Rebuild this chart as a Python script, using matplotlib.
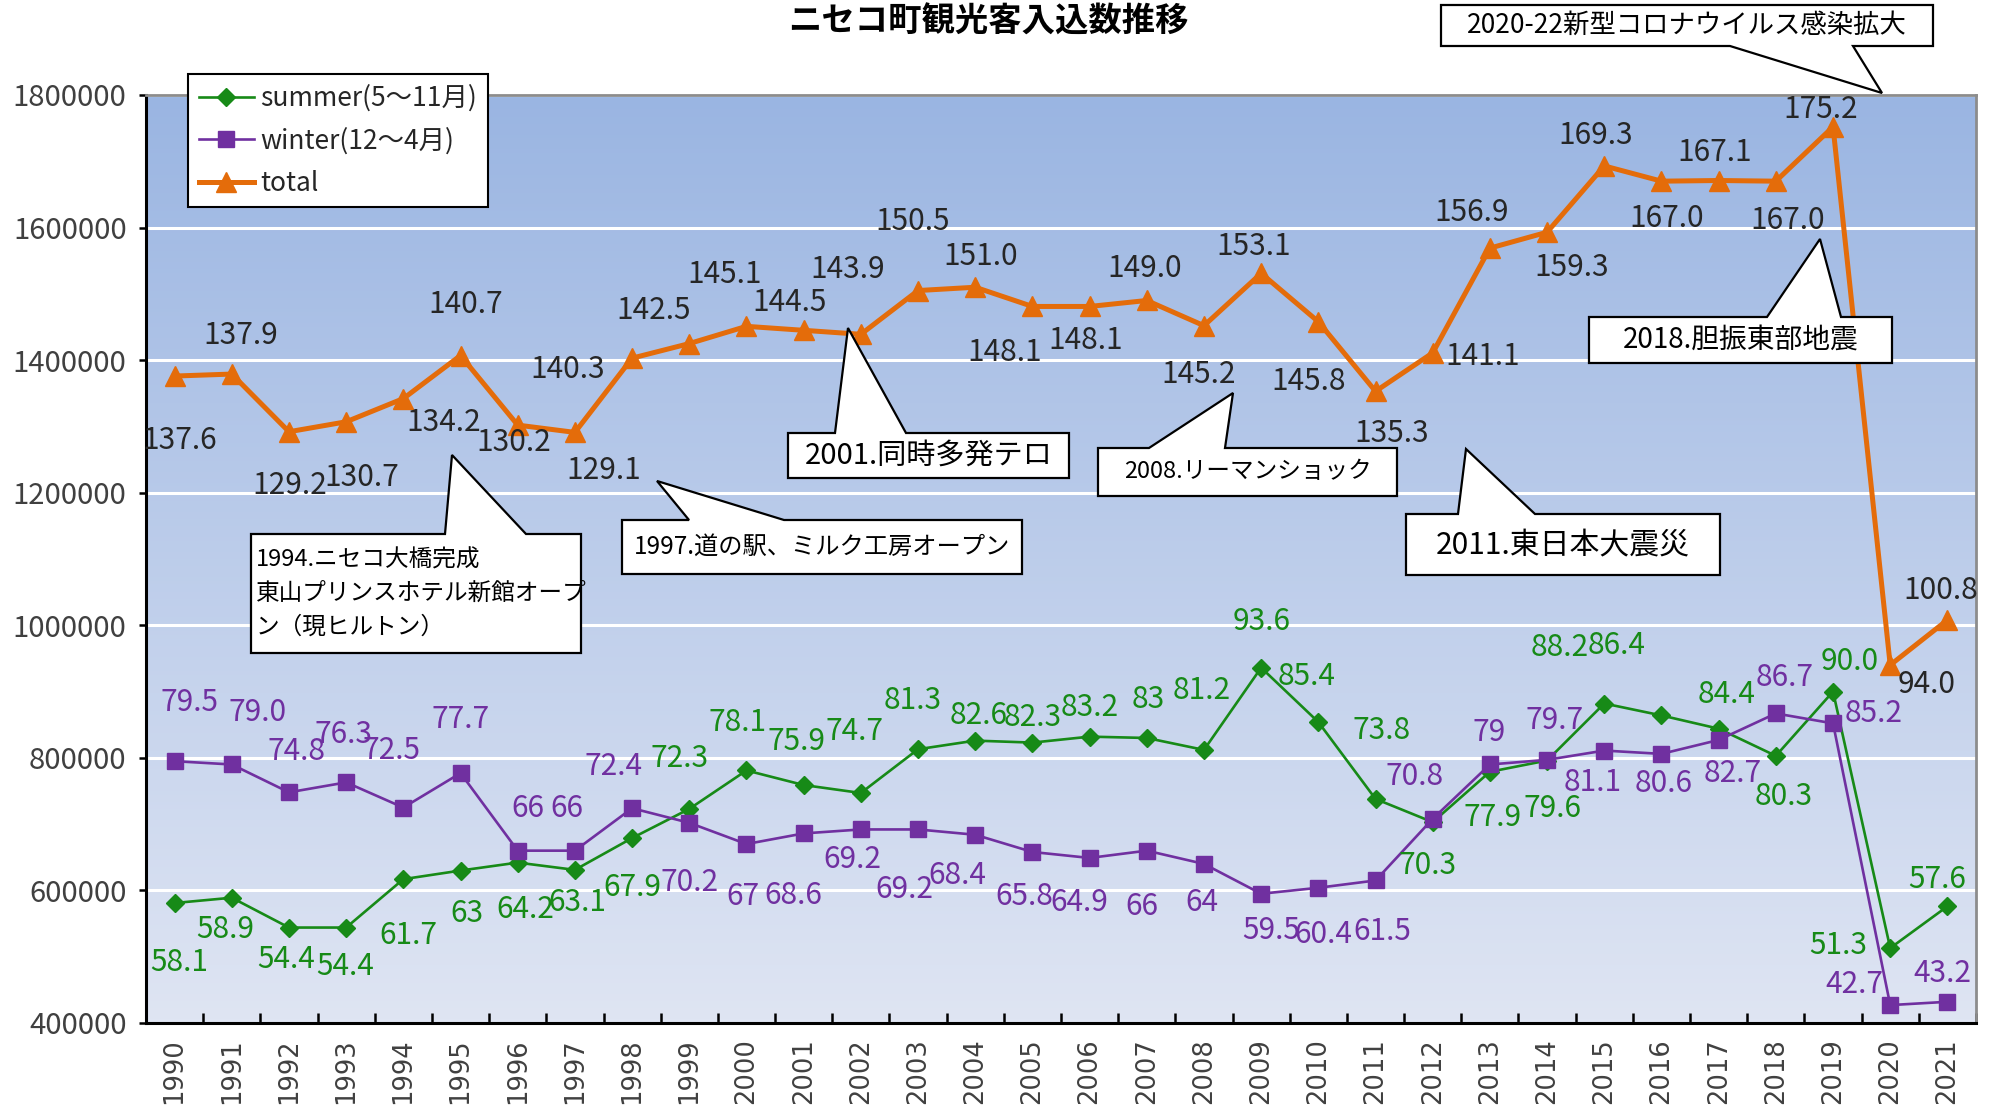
"""
ニセコ町観光客入込数推移 (summer / winter / total, 1990-2021)
"""

import numpy as np
import matplotlib
matplotlib.use("Agg")
import matplotlib.pyplot as plt
from matplotlib.patches import Polygon

plt.rcParams['font.family'] = ['Noto Sans CJK JP', 'DejaVu Sans']

# data (values in 万人)
years = list(range(1990, 2022))
summer = [58.1, 58.9, 54.4, 54.4, 61.7, 63, 64.2, 63.1, 67.9, 72.3,
          78.1, 75.9, 74.7, 81.3, 82.6, 82.3, 83.2, 83, 81.2, 93.6,
          85.4, 73.8, 70.3, 77.9, 79.6, 88.2, 86.4, 84.4, 80.3, 90.0,
          51.3, 57.6]
winter = [79.5, 79.0, 74.8, 76.3, 72.5, 77.7, 66, 66, 72.4, 70.2,
          67, 68.6, 69.2, 69.2, 68.4, 65.8, 64.9, 66, 64, 59.5,
          60.4, 61.5, 70.8, 79, 79.7, 81.1, 80.6, 82.7, 86.7, 85.2,
          42.7, 43.2]
total = [137.6, 137.9, 129.2, 130.7, 134.2, 140.7, 130.2, 129.1, 140.3, 142.5,
         145.1, 144.5, 143.9, 150.5, 151.0, 148.1, 148.1, 149.0, 145.2, 153.1,
         145.8, 135.3, 141.1, 156.9, 159.3, 169.3, 167.0, 167.1, 167.0, 175.2,
         94.0, 100.8]
summer_txt = ['58.1', '58.9', '54.4', '54.4', '61.7', '63', '64.2', '63.1', '67.9', '72.3',
              '78.1', '75.9', '74.7', '81.3', '82.6', '82.3', '83.2', '83', '81.2', '93.6',
              '85.4', '73.8', '70.3', '77.9', '79.6', '88.2', '86.4', '84.4', '80.3', '90.0',
              '51.3', '57.6']
winter_txt = ['79.5', '79.0', '74.8', '76.3', '72.5', '77.7', '66', '66', '72.4', '70.2',
              '67', '68.6', '69.2', '69.2', '68.4', '65.8', '64.9', '66', '64', '59.5',
              '60.4', '61.5', '70.8', '79', '79.7', '81.1', '80.6', '82.7', '86.7', '85.2',
              '42.7', '43.2']
total_txt = ['%.1f' % v for v in total]

# label offsets (screen px of the reference, +dy = down)
total_off = [(4, 51), (7, -30), (1, 42), (12, 44), (32, 19), (4, -40), (-3, 14), (23, 30),
             (-51, 9), (-28, -26), (-17, -41), (-11, -22), (-10, -51), (-4, -54), (4, -24),
             (-22, 36), (-3, 27), (-2, -25), (-4, 38), (-6, -21), (-8, 47), (13, 33),
             (39, 3), (-14, -28), (19, 28), (-7, -24), (4, 29), (-3, -22), (9, 31),
             (-10, -14), (29, 15), (-5, -23)]
summer_off = [(4, 47), (-5, 25), (-2, 25), (-1, 31), (4, 44), (5, 34), (6, 37), (2, 26),
              (0, 39), (-8, -40), (-7, -38), (-6, -34), (-5, -48), (-4, -38), (3, -20),
              (0, -20), (0, -23), (1, -30), (-2, -47), (0, -36), (-9, -36), (5, -54),
              (-4, 34), (2, 36), (4, 38), (-35, -44), (-35, -55), (6, -27), (6, 32),
              (13, -24), (-41, -2), (-8, -21)]
winter_off = [(12, -46), (20, -41), (6, -32), (-2, -38), (-9, -45), (0, -42), (8, -33),
              (-6, -33), (-15, -33), (0, 47), (-3, 41), (-8, 49), (-7, 24), (-11, 47),
              (-14, 32), (-6, 35), (-8, 35), (-4, 44), (-2, 30), (8, 29), (4, 37), (5, 40),
              (-14, -33), (-1, -25), (6, -31), (-9, 25), (2, 23), (11, 26), (7, -28),
              (32, -8), (-28, -16), (-4, -22)]

# callouts: text, box (x0, y0, x1, y1), pointer base (b0, b1), tip, side, fontsize
# (reference pixel coordinates, y down)
callouts = [
    ('2020-22新型コロナウイルス感染拡大', (1441, 5, 1933, 46), (1730, 1853), (1882, 93), 'bottom', 19),
    ('2018.胆振東部地震', (1589, 317, 1892, 363), (1767, 1841), (1820, 239), 'top', 20),
    ('2011.東日本大震災', (1406, 514, 1720, 575), (1458, 1535), (1466, 449), 'top', 21.5),
    ('2008.リーマンショック', (1098, 448, 1397, 496), (1149, 1225), (1233, 393), 'top', 17),
    ('2001.同時多発テロ', (788, 433, 1069, 478), (835, 906), (848, 328), 'top', 21),
    ('1997.道の駅、ミルク工房オープン', (622, 520, 1022, 574), (689, 784), (657, 481), 'top', 17.5),
    ('1994.ニセコ大橋完成\n東山プリンスホテル新館オープ\nン（現ヒルトン）',
     (251, 534, 581, 653), (445, 526), (452, 455), 'top', 17),
]

W, H = 1995, 1109
green = '#178a17'
purple = '#7030a0'
orange = '#e46c0a'

fig = plt.figure(figsize=(W / 100, H / 100), dpi=100)
ax = fig.add_axes([146 / W, 1 - 1023 / H, (1976 - 146) / W, (1023 - 95) / H])

# gradient background
grad = np.linspace(0, 1, 256).reshape(-1, 1)
top_c = np.array([154, 181, 226]) / 255
bot_c = np.array([223, 229, 243]) / 255
img = top_c * (1 - grad[..., None]) + bot_c * grad[..., None]
ax.imshow(img, extent=(0, 1, 0, 1), transform=ax.transAxes, aspect='auto', zorder=0)

x = np.arange(len(years))
s = np.array(summer) * 10000
w = np.array(winter) * 10000
t = np.array(total) * 10000

ax.plot(x, s, color=green, lw=1.9, marker='D', ms=9, label='summer(5～11月)', zorder=4)
ax.plot(x, w, color=purple, lw=1.9, marker='s', ms=12, label='winter(12～4月)', zorder=4)
ax.plot(x, t, color=orange, lw=3.6, marker='^', ms=15, label='total', zorder=5)

k = 1995 / 1568 * 0.72
for vals, txts, offs, col in [(s, summer_txt, summer_off, green),
                              (w, winter_txt, winter_off, purple),
                              (t, total_txt, total_off, '#262626')]:
    for i in range(len(x)):
        dx, dy = offs[i]
        ax.annotate(txts[i], (x[i], vals[i]), xytext=(dx * k, -dy * k),
                    textcoords='offset points', ha='center', va='center',
                    fontsize=21.5, color=col, zorder=6)

ax.set_xlim(-0.5, len(years) - 0.5)
ax.set_ylim(400000, 1800000)
ax.set_yticks(np.arange(400000, 1800001, 200000))
ax.set_yticklabels([str(v) for v in range(400000, 1800001, 200000)], fontsize=21, color='#404040')
ax.set_xticks(x)
ax.set_xticklabels([str(y) for y in years], rotation=90, fontsize=18.5, color='#404040',
                   family='DejaVu Sans')
ax.set_xticks(np.arange(-0.5, len(years), 1), minor=True)
ax.tick_params(axis='x', which='major', length=0, pad=11)
ax.tick_params(axis='x', which='minor', direction='in', length=7, width=1.8)
ax.tick_params(axis='y', direction='out', length=5, width=1.8, pad=9)
ax.grid(axis='y', color='white', lw=2.2, zorder=1)
ax.set_axisbelow(True)
for side in ['left', 'bottom']:
    ax.spines[side].set_color('black')
    ax.spines[side].set_linewidth(2.2)
for side in ['top', 'right']:
    ax.spines[side].set_color('#8c8c8c')
    ax.spines[side].set_linewidth(2.0)

leg = ax.legend(loc='upper left', bbox_to_anchor=(188 / W, 1 - 74 / H),
                bbox_transform=fig.transFigure, borderaxespad=0, fontsize=19,
                frameon=True, fancybox=False, framealpha=1, edgecolor='black',
                handlelength=2.1, handletextpad=0.25, labelspacing=0.58,
                borderpad=0.4)
leg.get_frame().set_linewidth(1.5)
leg.set_zorder(10)
for txt in leg.get_texts():
    txt.set_color('#262626')

fig.text(988 / W, 1 - 22 / H, 'ニセコ町観光客入込数推移', ha='center', va='center',
         fontsize=24, fontweight='bold', color='black')


def fpt(px, py):
    return (px / W, 1 - py / H)


for text, (x0, y0, x1, y1), (b0, b1), tip, side, fs in callouts:
    if side == 'top':
        pts = [(x0, y0), (b0, y0), tip, (b1, y0), (x1, y0), (x1, y1), (x0, y1)]
    else:
        pts = [(x0, y0), (x1, y0), (x1, y1), (b1, y1), tip, (b0, y1), (x0, y1)]
    poly = Polygon([fpt(*p) for p in pts], closed=True, transform=fig.transFigure,
                   facecolor='white', edgecolor='black', lw=1.6, zorder=20)
    fig.add_artist(poly)
    if '\n' in text:
        fig.text(*fpt(x0 + 5, (y0 + y1) / 2), text, ha='left', va='center',
                 fontsize=fs, color='black', linespacing=1.6, zorder=21)
    else:
        fig.text(*fpt((x0 + x1) / 2, (y0 + y1) / 2), text, ha='center', va='center',
                 fontsize=fs, color='black', zorder=21)

fig.savefig('out.png', dpi=100)
